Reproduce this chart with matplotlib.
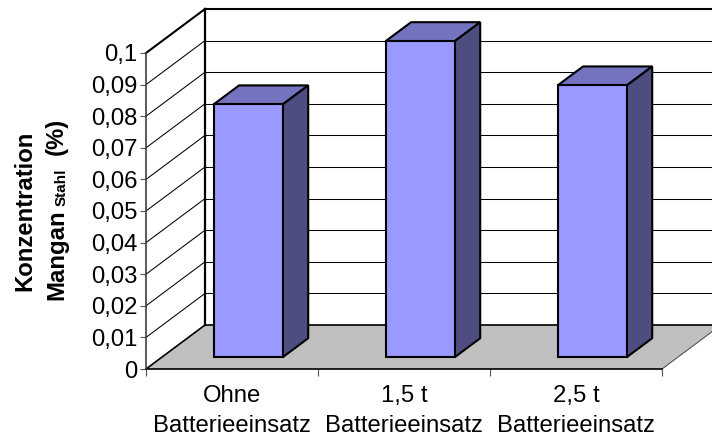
import numpy as np
import matplotlib
matplotlib.use('Agg')
import matplotlib.pyplot as plt

plt.rcParams['font.family'] = ['Liberation Sans', 'DejaVu Sans']

categories = ['Ohne\nBatterieeinsatz', '1,5 t\nBatterieeinsatz', '2,5 t\nBatterieeinsatz']
values = [0.08, 0.1, 0.086]
yticks = [0, 0.01, 0.02, 0.03, 0.04, 0.05, 0.06, 0.07, 0.08, 0.09, 0.1]
ylabels = ['0', '0,01', '0,02', '0,03', '0,04', '0,05', '0,06', '0,07', '0,08', '0,09', '0,1']

W, H = 712, 438
fig = plt.figure(figsize=(W / 100, H / 100), dpi=100)
ax = fig.add_axes([146 / W, (H - 369) / H, (662 - 146) / W, (369 - 53) / H])

# oblique offset of the back wall, in data units
depth_x = 59 / 172
depth_y = 0.1 * 44 / 316
n = len(categories)
ymax = yticks[-1]


def proj(x, y, d):
    return x + d * depth_x, y + d * depth_y


def face(points, **kw):
    pts = [proj(*p) for p in points]
    ax.fill([p[0] for p in pts], [p[1] for p in pts], clip_on=False, **kw)


# side wall, back wall, floor
face([(0, 0, 0), (0, ymax, 0), (0, ymax, 1), (0, 0, 1)], facecolor='white', edgecolor='none', zorder=1)
face([(0, 0, 0), (n, 0, 0), (n, 0, 1), (0, 0, 1)], facecolor='#c0c0c0', edgecolor='none', zorder=1)

for t in yticks[1:]:
    x0, y0 = proj(0, t, 0)
    x1, y1 = proj(0, t, 1)
    x2, y2 = proj(n, t, 1)
    lw = 1.5 if t == ymax else 0.75
    ax.plot([x0, x1], [y0, y1], color='black', lw=lw, clip_on=False, zorder=2)
    ax.plot([x1, x2], [y1, y2], color='black', lw=lw, clip_on=False, zorder=2)

# floor edges
x0, y0 = proj(0, 0, 0)
x1, y1 = proj(0, 0, 1)
x2, y2 = proj(n, 0, 1)
x3, y3 = proj(n, 0, 0)
ax.plot([x0, x1], [y0, y1], color='black', lw=1.2, clip_on=False, zorder=2)
ax.plot([x1, x2], [y1, y2], color='black', lw=1.2, clip_on=False, zorder=2)
ax.plot([x3, x2], [y3, y2], color='#555555', lw=0.8, clip_on=False, zorder=2)
ax.plot([x1, x1], [y1, ymax + depth_y], color='black', lw=1.6, clip_on=False, zorder=2)

# bars
d0, d1 = 0.27, 0.70
bw = 0.402
for i, v in enumerate(values):
    left = i + 0.5 - bw / 2 + 0.002
    right = left + bw
    base = d0 * depth_y
    ax.bar(left + d0 * depth_x, v, width=bw, bottom=base, align='edge', color='#9999ff',
           edgecolor='black', linewidth=1.5, clip_on=False, zorder=5)
    face([(left, v, d0), (right, v, d0), (right, v, d1), (left, v, d1)],
         facecolor='#7373bf', edgecolor='black', linewidth=1.5, zorder=4, joinstyle='miter')
    face([(right, 0, d0), (right, v, d0), (right, v, d1), (right, 0, d1)],
         facecolor='#4d4d80', edgecolor='black', linewidth=1.5, zorder=4, joinstyle='miter')

ax.set_xlim(0, n)
ax.set_ylim(0, ymax)
ax.patch.set_visible(False)

for s in ['top', 'right']:
    ax.spines[s].set_visible(False)
ax.spines['left'].set_color('#404040')
ax.spines['left'].set_linewidth(1.2)
ax.spines['bottom'].set_color('black')
ax.spines['bottom'].set_linewidth(1.2)
ax.spines['left'].set_zorder(6)
ax.spines['bottom'].set_zorder(3)

ax.set_yticks(yticks)
ax.set_yticklabels(ylabels, fontsize=17.2)
ax.tick_params(axis='y', length=4, width=0.8, color='#555555', pad=2)
ax.set_xticks(np.arange(n + 1))
ax.set_xticklabels([])
ax.tick_params(axis='x', which='major', length=5, width=0.8, color='#555555')
ax.set_xticks(np.arange(n) + 0.5, minor=True)
ax.set_xticklabels(categories, minor=True, fontsize=17.2, linespacing=1.47)
ax.tick_params(axis='x', which='minor', length=0, pad=11.5)

# axis title, written as separate pieces because of the subscript
fig.text(31 / W, (H - 211) / H, 'Konzentration', rotation=90, fontsize=17.2, fontweight='bold',
         ha='center', va='baseline', rotation_mode='anchor')
fig.text(63 / W, (H - 300) / H, 'Mangan', rotation=90, fontsize=17.2, fontweight='bold',
         ha='left', va='baseline', rotation_mode='anchor')
fig.text(66 / W, (H - 206) / H, 'Stahl', rotation=90, fontsize=11, fontweight='bold',
         ha='left', va='baseline', rotation_mode='anchor')
fig.text(63 / W, (H - 155) / H, '(%)', rotation=90, fontsize=17.2, fontweight='bold',
         ha='left', va='baseline', rotation_mode='anchor')

fig.savefig('out.png', dpi=100)
